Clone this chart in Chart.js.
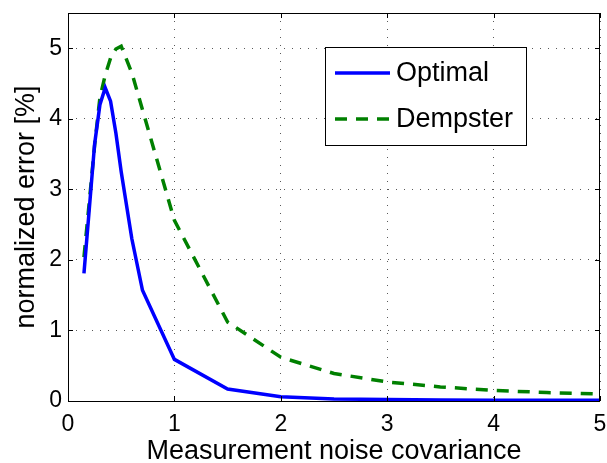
<!DOCTYPE html>
<html>
<head>
<meta charset="utf-8">
<script src="https://cdn.jsdelivr.net/npm/chart.js@4"></script>
<style>
  html, body { margin: 0; padding: 0; background: #fff; }
  #wrap { width: 607px; height: 463px; }
</style>
</head>
<body>
<div id="wrap"><canvas id="chart" width="607" height="463"></canvas></div>
<script>
// values
const noiseCov = [0.15, 0.2, 0.25, 0.3, 0.35, 0.4, 0.45, 0.5, 0.6, 0.7, 1, 1.5, 2, 2.5, 3, 3.5, 4, 4.5, 5];
const optimal  = [1.81, 2.72, 3.64, 4.20, 4.44, 4.25, 3.80, 3.25, 2.30, 1.57, 0.59, 0.17, 0.06, 0.03, 0.02, 0.015, 0.01, 0.01, 0.01];
const dempster = [2.04, 2.82, 3.62, 4.30, 4.62, 4.86, 4.99, 5.03, 4.65, 4.13, 2.56, 1.12, 0.62, 0.39, 0.27, 0.20, 0.15, 0.12, 0.10];
const xTicks = [0, 1, 2, 3, 4, 5];
const yTicks = [0, 1, 2, 3, 4, 5];
const seriesNames = ['Optimal', 'Dempster'];

const FONT = "'Liberation Sans', Arial, sans-serif";

function toPoints(xs, ys) {
    return xs.map((x, i) => ({ x: x, y: ys[i] }));
}

// box around the axes + inward tick marks on all four sides (matlab style)
const boxPlugin = {
    id: 'box',
    afterDraw(chart) {
        const { ctx, chartArea: a, scales } = chart;
        ctx.save();
        ctx.strokeStyle = '#000';
        ctx.lineWidth = 1;
        ctx.strokeRect(a.left + 0.5, a.top + 0.5, a.right - a.left - 1, a.bottom - a.top);
        ctx.beginPath();
        xTicks.forEach(v => {
            const px = Math.round(scales.x.getPixelForValue(v)) + 0.5;
            ctx.moveTo(px, a.bottom); ctx.lineTo(px, a.bottom - 5);
            ctx.moveTo(px, a.top); ctx.lineTo(px, a.top + 5);
        });
        yTicks.forEach(v => {
            const py = Math.round(scales.y.getPixelForValue(v)) + 0.5;
            ctx.moveTo(a.left, py); ctx.lineTo(a.left + 5, py);
            ctx.moveTo(a.right, py); ctx.lineTo(a.right - 5, py);
        });
        ctx.stroke();
        ctx.restore();
    }
};

// legend drawn inside the plot, top right
const legendPlugin = {
    id: 'boxLegend',
    afterDraw(chart) {
        const ctx = chart.ctx;
        const a = chart.chartArea;
        const bx = a.left + 257, by = a.top + 34, bw = 201, bh = 98;
        ctx.save();
        ctx.fillStyle = '#fff';
        ctx.fillRect(bx, by, bw, bh);
        ctx.strokeStyle = '#000';
        ctx.lineWidth = 1;
        ctx.strokeRect(bx + 0.5, by + 0.5, bw, bh);
        chart.data.datasets.forEach((ds, i) => {
            const cy = by + 26 + i * 46;
            ctx.beginPath();
            ctx.strokeStyle = ds.borderColor;
            ctx.lineWidth = ds.borderWidth;
            ctx.setLineDash(ds.borderDash || []);
            ctx.moveTo(bx + 10, cy);
            ctx.lineTo(bx + 65, cy);
            ctx.stroke();
            ctx.setLineDash([]);
            ctx.fillStyle = '#000';
            ctx.font = '27px ' + FONT;
            ctx.textBaseline = 'middle';
            ctx.fillText(ds.label, bx + 71, cy + 1);
        });
        ctx.restore();
    }
};

new Chart(document.getElementById('chart'), {
    type: 'line',
    data: {
        datasets: [
            {
                label: seriesNames[0],
                data: toPoints(noiseCov, optimal),
                borderColor: '#0000ff',
                borderWidth: 3.5,
                pointRadius: 0,
                fill: false,
                tension: 0
            },
            {
                label: seriesNames[1],
                data: toPoints(noiseCov, dempster),
                borderColor: '#008000',
                borderWidth: 3.5,
                borderDash: [12, 9],
                pointRadius: 0,
                fill: false,
                tension: 0
            }
        ]
    },
    options: {
        responsive: false,
        animation: false,
        devicePixelRatio: 1,
        layout: { padding: { top: 13, right: 7, left: 0, bottom: 0 } },
        plugins: {
            legend: { display: false },
            tooltip: { enabled: false }
        },
        scales: {
            x: {
                type: 'linear',
                min: 0,
                max: 5,
                afterBuildTicks: s => { s.ticks = xTicks.map(v => ({ value: v })); },
                afterFit: s => { s.height = 62; s.paddingLeft = 0; s.paddingRight = 0; },
                ticks: {
                    color: '#000',
                    font: { family: FONT, size: 23 },
                    padding: 10,
                    maxRotation: 0
                },
                grid: {
                    color: 'rgba(0,0,0,0.65)',
                    drawTicks: false
                },
                border: { display: false, dash: [1, 7] },
                title: {
                    display: true,
                    text: 'Measurement noise covariance',
                    color: '#000',
                    font: { family: FONT, size: 27, lineHeight: 1 },
                    padding: { top: 0, bottom: -2 }
                }
            },
            y: {
                type: 'linear',
                min: 0,
                max: 5.5,
                afterBuildTicks: s => { s.ticks = yTicks.map(v => ({ value: v })); },
                afterFit: s => { s.width = 68; s.paddingTop = 0; s.paddingBottom = 0; },
                ticks: {
                    color: '#000',
                    font: { family: FONT, size: 23 },
                    padding: 6
                },
                grid: {
                    color: 'rgba(0,0,0,0.65)',
                    drawTicks: false
                },
                border: { display: false, dash: [1, 7] },
                title: {
                    display: true,
                    text: 'normalized error [%]',
                    color: '#000',
                    font: { family: FONT, size: 27, lineHeight: 1 },
                    padding: { top: 13, bottom: 0 }
                }
            }
        }
    },
    plugins: [boxPlugin, legendPlugin]
});
</script>
</body>
</html>
